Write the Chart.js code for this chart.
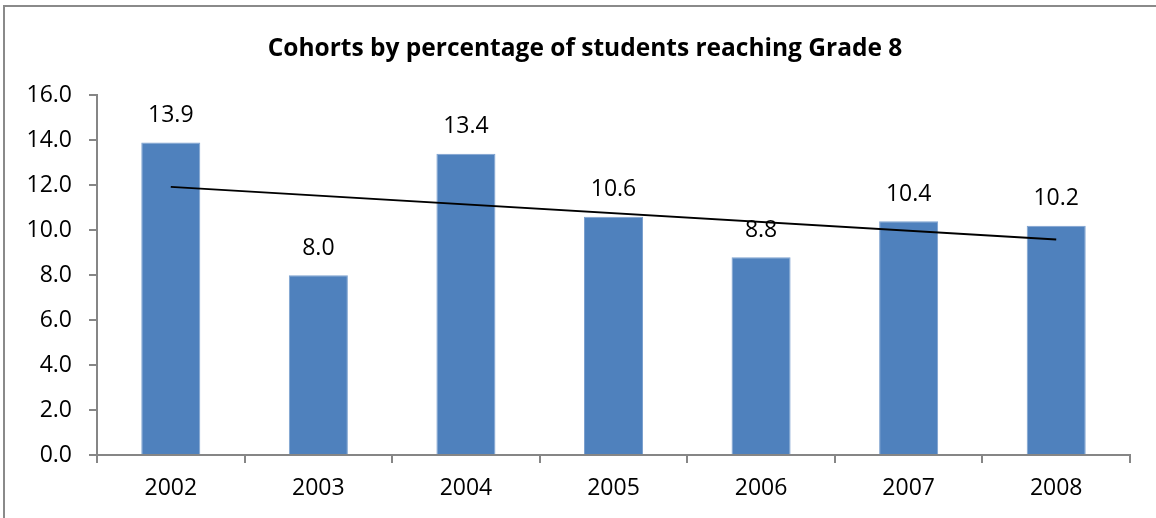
<!DOCTYPE html>
<html>
<head>
<meta charset="utf-8">
<script src="https://cdn.jsdelivr.net/npm/chart.js@4"></script>
<style>
  html, body { margin: 0; padding: 0; background: #fff; }
  #frame {
    position: absolute; left: 3px; top: 5px; width: 1153px; height: 513px;
    border-left: 2px solid #8a8a8a; border-top: 2px solid #8a8a8a;
    box-sizing: border-box;
  }
  #wrap { position: absolute; left: 0; top: 0; width: 1156px; height: 518px; }
</style>
</head>
<body>
<div id="frame"></div>
<div id="wrap"><canvas id="cohortChart"></canvas></div>
<script>
const years = ['2002', '2003', '2004', '2005', '2006', '2007', '2008'];
const percentReaching = [13.9, 8.0, 13.4, 10.6, 8.8, 10.4, 10.2];
// linear trend, end points
const trend = [11.93, null, null, null, null, null, 9.59];
const yTicks = [0, 2, 4, 6, 8, 10, 12, 14, 16];

const FONT = '"Open Sans", sans-serif';
const AXIS_GRAY = '#868686';

// value labels above the bars
const barLabels = {
    id: 'barLabels',
    afterDatasetsDraw(chart) {
        const ctx = chart.ctx;
        const meta = chart.getDatasetMeta(0);
        ctx.save();
        ctx.font = '23px ' + FONT;
        ctx.fillStyle = '#000';
        ctx.textAlign = 'center';
        ctx.textBaseline = 'middle';
        meta.data.forEach((bar, i) => {
            ctx.fillText(percentReaching[i].toFixed(1), bar.x, bar.y - 27);
        });
        ctx.restore();
    }
};

// title sits a bit right of the canvas centre in the original
const nudgeTitle = {
    id: 'nudgeTitle',
    afterLayout(chart) {
        if (chart.titleBlock) chart.titleBlock.left += 40;
    }
};

const ctx = document.getElementById('cohortChart').getContext('2d');
const cohortChart = new Chart(ctx, {
    data: {
        labels: years,
        datasets: [{
            type: 'bar',
            label: 'Percentage reaching Grade 8',
            data: percentReaching,
            backgroundColor: '#4F81BD',
            borderColor: '#7DA1CF',
            borderWidth: 1,
            barPercentage: 0.4,
            categoryPercentage: 1.0,
            order: 2
        }, {
            type: 'line',
            label: 'Linear trend',
            data: trend,
            spanGaps: true,
            borderColor: '#000',
            borderWidth: 2,
            pointRadius: 0,
            fill: false,
            order: 1
        }]
    },
    options: {
        responsive: true,
        maintainAspectRatio: false,
        animation: false,
        layout: {
            padding: { left: 0, right: 26, top: 0, bottom: 0 }
        },
        plugins: {
            legend: { display: false },
            tooltip: { enabled: false },
            title: {
                display: true,
                text: 'Cohorts by percentage of students reaching Grade 8',
                color: '#000',
                font: { family: FONT, size: 24.5, weight: 'bold', lineHeight: 1.2 },
                padding: { top: 34, bottom: 32 }
            }
        },
        scales: {
            x: {
                grid: {
                    display: true,
                    offset: true,
                    drawOnChartArea: false,
                    drawTicks: true,
                    tickLength: 8,
                    color: AXIS_GRAY,
                    lineWidth: 2
                },
                border: { display: true, color: AXIS_GRAY, width: 2 },
                ticks: {
                    color: '#000',
                    font: { family: FONT, size: 23 },
                    padding: 12,
                    maxRotation: 0
                },
                afterFit(scale) { scale.height = 63; }
            },
            y: {
                min: 0,
                max: 16,
                afterBuildTicks(scale) {
                    scale.ticks = yTicks.map(v => ({ value: v }));
                },
                grid: {
                    display: true,
                    drawOnChartArea: false,
                    drawTicks: true,
                    tickLength: 8,
                    color: AXIS_GRAY,
                    lineWidth: 2
                },
                border: { display: true, color: AXIS_GRAY, width: 2 },
                ticks: {
                    color: '#000',
                    font: { family: FONT, size: 23 },
                    padding: 17,
                    callback: v => Number(v).toFixed(1)
                },
                afterFit(scale) { scale.width = 97; }
            }
        }
    },
    plugins: [barLabels, nudgeTitle]
});
</script>
</body>
</html>
